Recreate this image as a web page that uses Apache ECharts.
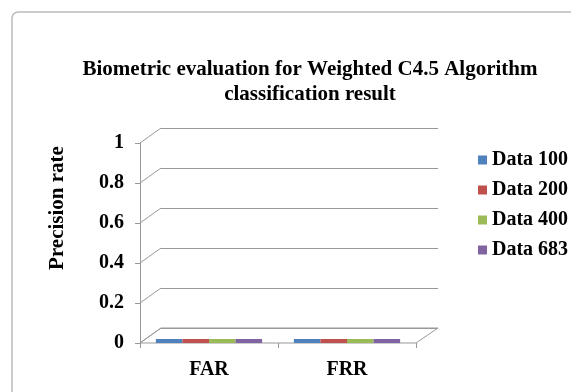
<!DOCTYPE html>
<html>
<head>
<meta charset="utf-8">
<script src="https://cdn.jsdelivr.net/npm/echarts@6/dist/echarts.min.js"></script>
<style>
html, body { margin: 0; padding: 0; background: #fff; }
#main { width: 571px; height: 392px; }
</style>
</head>
<body>
<div id="main"></div>
<script>
// chart data
var categories = ['FAR', 'FRR'];
var seriesNames = ['Data 100', 'Data 200', 'Data 400', 'Data 683'];
var data100 = [0.02, 0.02];
var data200 = [0.02, 0.02];
var data400 = [0.02, 0.02];
var data683 = [0.02, 0.02];
var yTicks = [0, 0.2, 0.4, 0.6, 0.8, 1];

var colors = ['#4F81BD', '#C0504D', '#9BBB59', '#8064A2'];
var font = 'Liberation Serif, Times New Roman, serif';

var dom = document.getElementById('main');
var myChart = echarts.init(dom);

var values = [data100, data200, data400, data683];
var series = seriesNames.map(function (n, i) {
    return {
        name: n,
        type: 'bar',
        xAxisIndex: 0,
        yAxisIndex: 0,
        data: values[i],
        barGap: '0%',
        barCategoryGap: '23%',
        itemStyle: { color: colors[i] }
    };
});

var option = {
    animation: false,
    color: colors,
    title: {
        text: 'Biometric evaluation for Weighted C4.5 Algorithm\nclassification result',
        left: 305,
        top: 52,
        textAlign: 'center',
        textStyle: {
            fontFamily: font,
            fontWeight: 'bold',
            fontSize: 21,
            lineHeight: 25,
            color: '#000'
        }
    },
    legend: {
        orient: 'vertical',
        left: 473,
        top: 145,
        itemWidth: 9,
        itemHeight: 9,
        itemGap: 10,
        icon: 'rect',
        data: seriesNames,
        textStyle: {
            fontFamily: font,
            fontWeight: 'bold',
            fontSize: 20,
            color: '#000'
        }
    },
    grid: [
        { left: 140, right: 155, top: 143, bottom: 49 },
        { left: 161, right: 133, top: 128, bottom: 64 }
    ],
    xAxis: [{
        type: 'category',
        gridIndex: 0,
        data: categories,
        axisLine: { show: false },
        axisTick: { show: true, length: 5, lineStyle: { color: '#999' } },
        axisLabel: {
            fontFamily: font,
            fontWeight: 'bold',
            fontSize: 20,
            color: '#000',
            margin: 17
        }
    }, {
        type: 'category',
        gridIndex: 1,
        data: categories,
        show: false
    }],
    yAxis: [{
        type: 'value',
        gridIndex: 0,
        min: 0,
        max: 1,
        interval: 0.2,
        name: 'Precision rate',
        nameLocation: 'middle',
        nameGap: 72,
        nameRotate: 90,
        nameTextStyle: {
            fontFamily: font,
            fontWeight: 'bold',
            fontSize: 21,
            color: '#000',
            padding: [0, 0, 0, 70]
        },
        axisLine: { show: true, lineStyle: { color: '#999' } },
        axisTick: { show: true, length: 5, lineStyle: { color: '#999' } },
        splitLine: { show: false },
        axisLabel: {
            fontFamily: font,
            fontWeight: 'bold',
            fontSize: 20,
            color: '#000',
            margin: 16
        }
    }, {
        type: 'value',
        gridIndex: 1,
        min: 0,
        max: 1,
        interval: 0.2,
        axisLine: { show: false },
        axisTick: { show: false },
        axisLabel: { show: false },
        splitLine: { show: true, lineStyle: { color: '#999' } }
    }],
    series: series
};

if (option && typeof option === "object") {
    myChart.setOption(option, true);
}

// 3d-ish decoration: connectors from the front axis to the back wall, and the floor
var elements = [];
yTicks.forEach(function (t) {
    var f = myChart.convertToPixel({ xAxisIndex: 0, yAxisIndex: 0 }, [0, t]);
    var b = myChart.convertToPixel({ xAxisIndex: 1, yAxisIndex: 1 }, [0, t]);
    elements.push({
        type: 'line',
        shape: { x1: 140, y1: f[1], x2: 161, y2: b[1] },
        style: { stroke: '#999', lineWidth: 1 },
        silent: true
    });
});
var f0 = myChart.convertToPixel({ xAxisIndex: 0, yAxisIndex: 0 }, [0, 0])[1];
var b0 = myChart.convertToPixel({ xAxisIndex: 1, yAxisIndex: 1 }, [0, 0])[1];
elements.push({
    type: 'polygon',
    shape: { points: [[140, f0], [416, f0], [438, b0], [161, b0]] },
    style: { fill: 'none', stroke: '#999', lineWidth: 1 },
    z: -1,
    silent: true
});
elements.push({
    type: 'rect',
    shape: { x: 12, y: 12, width: 580, height: 400, r: 6 },
    style: { fill: 'none', stroke: '#bbb', lineWidth: 1.5 },
    silent: true
});
myChart.setOption({ graphic: { elements: elements } });
</script>
</body>
</html>
